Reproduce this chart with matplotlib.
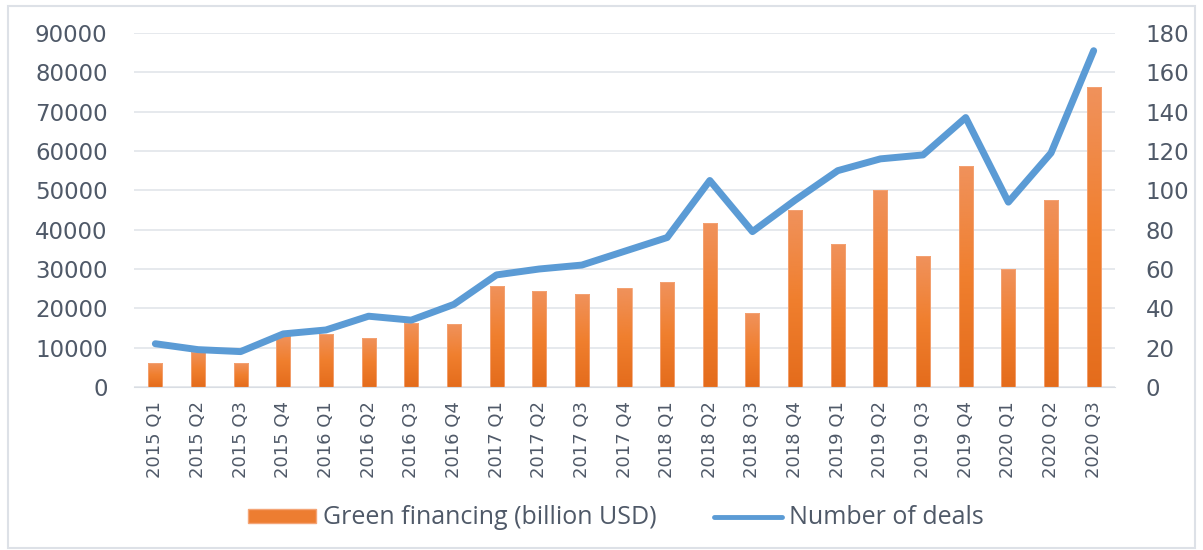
import numpy as np
import matplotlib
matplotlib.use("Agg")
import matplotlib.pyplot as plt
from matplotlib.colors import LinearSegmentedColormap
from matplotlib.patches import Rectangle
from matplotlib.lines import Line2D

# quarters on the x axis
quarters = ["2015 Q1", "2015 Q2", "2015 Q3", "2015 Q4",
            "2016 Q1", "2016 Q2", "2016 Q3", "2016 Q4",
            "2017 Q1", "2017 Q2", "2017 Q3", "2017 Q4",
            "2018 Q1", "2018 Q2", "2018 Q3", "2018 Q4",
            "2019 Q1", "2019 Q2", "2019 Q3", "2019 Q4",
            "2020 Q1", "2020 Q2", "2020 Q3"]

# green financing (bars, left axis)
financing = [6000, 9000, 6000, 13000, 13500, 12500, 16300, 15900,
             25800, 24500, 23600, 25100, 26600, 41600, 18700, 45000,
             36300, 50000, 33200, 56200, 29900, 47600, 76300]

# number of deals (line, right axis)
deals = [22, 19, 18, 27, 29, 36, 34, 42,
         57, 60, 62, 69, 76, 105, 79, 95,
         110, 116, 118, 137, 94, 119, 171]

left_ticks = np.arange(0, 90001, 10000)
right_ticks = np.arange(0, 181, 20)

txt = "#4f5968"
orange = "#ed7d31"
blue = "#5b9bd5"

fig = plt.figure(figsize=(12.03, 5.5), dpi=100)
ax = fig.add_axes([134 / 1203, 1 - 387 / 550, (1115 - 134) / 1203, (387 - 33) / 550])
ax2 = ax.twinx()

x = np.arange(len(quarters))
bars = ax.bar(x, financing, width=0.33, facecolor="none", edgecolor="#f4a577",
              linewidth=0.6, zorder=2)

# vertical gradient inside each bar: lighter at the top, darker at the bottom
grad_cmap = LinearSegmentedColormap.from_list("og", ["#e46c1c", "#f07f2e", "#f0925c"])
grad = np.linspace(0, 1, 256).reshape(-1, 1)
for b in bars:
    im = ax.imshow(grad, cmap=grad_cmap, origin="lower", aspect="auto",
                   extent=[b.get_x(), b.get_x() + b.get_width(), 0, b.get_height()],
                   zorder=1.9)
    im.set_clip_path(b)

ax.set_xlim(-0.5, len(quarters) - 0.5)
ax.set_ylim(0, 90000)
ax.set_yticks(left_ticks)
ax.set_yticklabels([str(v) for v in left_ticks])
ax.set_xticks(x)
ax.set_xticklabels(quarters, rotation=90)
ax.grid(axis="y", color="#e1e5ea", linewidth=1.2, zorder=0)
ax.set_axisbelow(True)

ax2.plot(x, deals, color=blue, linewidth=5, solid_capstyle="round",
         solid_joinstyle="round", zorder=3)
ax2.set_ylim(0, 180)
ax2.set_yticks(right_ticks)
ax2.set_xlim(-0.5, len(quarters) - 0.5)

for a in (ax, ax2):
    for s in a.spines.values():
        s.set_visible(False)
    a.tick_params(length=0, colors=txt)
ax.spines["bottom"].set_visible(True)
ax.spines["bottom"].set_color("#d9dde3")
ax.tick_params(axis="y", labelsize=16.5, pad=19)
ax.tick_params(axis="x", labelsize=13, pad=10)
ax2.tick_params(axis="y", labelsize=16.5, pad=22)

handles = [Rectangle((0, 0), 1, 1, facecolor=orange, edgecolor="#f4a577"),
           Line2D([0], [0], color=blue, linewidth=3.5, solid_capstyle="round")]
fig.legend(handles, ["Green financing (billion USD)", "Number of deals"],
           loc="center", bbox_to_anchor=(616 / 1203, 1 - 518 / 550), ncol=2,
           frameon=False, labelcolor=txt, handlelength=2.7, handleheight=0.5,
           handletextpad=0.3, columnspacing=2.3,
           prop={"family": "Open Sans", "size": 18})

# light frame around the whole chart
fig.patches.append(Rectangle((8 / 1203, 2 / 550), 1187 / 1203, 542 / 550,
                             transform=fig.transFigure, fill=False,
                             edgecolor="#dde1e7", linewidth=1.5))

fig.savefig("out.png", dpi=100)
